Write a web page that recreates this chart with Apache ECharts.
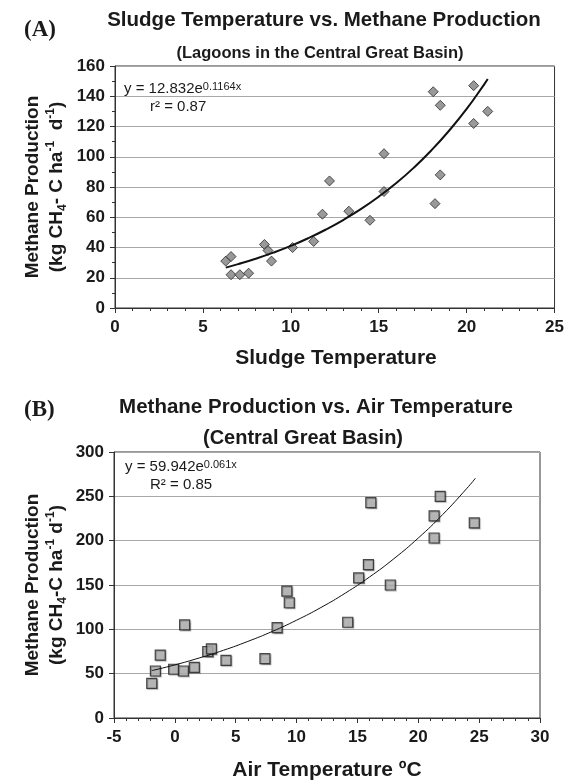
<!DOCTYPE html>
<html>
<head>
<meta charset="utf-8">
<script src="https://cdn.jsdelivr.net/npm/echarts@6/dist/echarts.min.js"></script>
<style>
  html, body { margin: 0; padding: 0; background: #fff; }
  #chart { width: 567px; height: 783px; }
</style>
</head>
<body>
<div id="chart"></div>
<script>
// (A) sludge temperature vs methane production
const sludgeTemp = [6.3, 6.6, 6.6, 7.1, 7.6, 8.5, 8.7, 8.9, 10.1, 11.3, 11.8, 12.2, 13.3, 14.5, 15.3, 15.3, 18.1, 18.5, 18.5, 18.2, 20.4, 20.4, 21.2]
const sludgeMethane = [31, 34, 22, 22, 23, 42, 38, 31, 40, 44, 62, 84, 64, 58, 102, 77, 143, 134, 88, 69, 147, 122, 130]
// trend curve
const sludgeTrendX = [6.3, 7, 8, 9, 10, 11, 12, 13, 14, 15, 16, 17, 18, 19, 20, 21, 21.2]
const sludgeTrendY = [26.7, 29.0, 32.6, 36.6, 41.1, 46.2, 51.9, 58.3, 65.5, 73.6, 82.6, 92.8, 104.3, 117.2, 131.6, 147.9, 151.4]
const sludgeXTicks = [0, 25, 5]
const sludgeYTicks = [0, 160, 20]

// (B) air temperature vs methane production
const airTemp = [-1.9, -1.6, -1.2, -0.1, 0.7, 0.8, 1.6, 2.7, 3.0, 4.2, 7.4, 8.4, 9.2, 9.4, 14.2, 15.1, 15.9, 16.1, 17.7, 21.3, 21.3, 21.8, 24.6]
const airMethane = [39, 53, 71, 55, 53, 105, 57, 75, 78, 65, 67, 102, 143, 130, 108, 158, 173, 243, 150, 203, 228, 250, 220]
const airTrendX = [-1.9, 0, 2, 4, 6, 8, 10, 12, 14, 16, 18, 20, 22, 24, 24.7]
const airTrendY = [53.4, 59.9, 67.7, 76.4, 86.4, 97.6, 110.3, 124.6, 140.8, 159.1, 179.7, 203.0, 229.4, 259.1, 270.5]
const airXTicks = [-5, 30, 5]
const airYTicks = [0, 300, 50]

const FONT = '"Liberation Sans", Arial, sans-serif'
const SERIF = '"Liberation Serif", "Times New Roman", serif'
const INK = '#1a1a1a'

const zip = (xs, ys) => xs.map((x, i) => [x, ys[i]])

const chart = echarts.init(document.getElementById('chart'), null, { renderer: 'canvas' })

const xAxisBase = (ticks, grid) => ({
    type: 'value', gridIndex: grid,
    min: ticks[0], max: ticks[1], interval: ticks[2],
    axisLine: { show: true, onZero: false, lineStyle: { color: '#333', width: 1 } },
    axisTick: { show: true, length: 5, lineStyle: { color: '#333' } },
    minorTick: { show: true, splitNumber: 5, length: 3, lineStyle: { color: '#333' } },
    splitLine: { show: false },
    axisLabel: { color: INK, fontFamily: FONT, fontWeight: 'bold', fontSize: 17, margin: 11 }
})
const yAxisBase = (ticks, grid, minor) => ({
    type: 'value', gridIndex: grid,
    min: ticks[0], max: ticks[1], interval: ticks[2],
    axisLine: { show: true, onZero: false, lineStyle: { color: '#333', width: 1 } },
    axisTick: { show: true, length: 5, lineStyle: { color: '#333' } },
    minorTick: { show: minor, splitNumber: 2, length: 3, lineStyle: { color: '#333' } },
    splitLine: { show: true, lineStyle: { color: '#a8a8a8', width: 1 } },
    axisLabel: { color: INK, fontFamily: FONT, fontWeight: 'bold', fontSize: 17, margin: 10 }
})

const nameRich = {
    sub: { fontSize: 12, fontWeight: 'bold', fontFamily: FONT, color: INK, lineHeight: 12, verticalAlign: 'bottom' },
    sup: { fontSize: 12, fontWeight: 'bold', fontFamily: FONT, color: INK, lineHeight: 12, verticalAlign: 'top' }
}
const eqRich = {
    sup: { fontSize: 11, fontFamily: FONT, color: INK, lineHeight: 11, verticalAlign: 'top' }
}

const txt = (x, y, text, opts) => ({
    type: 'text', x: x, y: y, rotation: opts.rotation || 0, silent: true,
    style: Object.assign({
        text: text, fill: INK, fontFamily: FONT, fontSize: 15,
        align: 'left', verticalAlign: 'middle'
    }, opts.style || {})
})

const option = {
    backgroundColor: '#fff',
    animation: false,
    grid: [
        { left: 115, top: 66, width: 442, height: 242, show: true, borderColor: '#333', borderWidth: 1, backgroundColor: 'transparent' },
        { left: 114, top: 452, width: 426, height: 266, show: true, borderColor: '#333', borderWidth: 1, backgroundColor: 'transparent' }
    ],
    xAxis: [xAxisBase(sludgeXTicks, 0), xAxisBase(airXTicks, 1)],
    yAxis: [yAxisBase(sludgeYTicks, 0, true), yAxisBase(airYTicks, 1, false)],
    series: [
        {
            type: 'scatter', xAxisIndex: 0, yAxisIndex: 0,
            symbol: 'diamond', symbolSize: 10,
            itemStyle: { color: '#808080', borderColor: '#2a2a2a', borderWidth: 1 },
            data: zip(sludgeTemp, sludgeMethane), z: 3
        },
        {
            type: 'line', xAxisIndex: 0, yAxisIndex: 0, smooth: true, showSymbol: false,
            lineStyle: { color: '#111', width: 2 },
            data: zip(sludgeTrendX, sludgeTrendY), z: 4
        },
        {
            type: 'scatter', xAxisIndex: 1, yAxisIndex: 1,
            symbol: 'rect', symbolSize: 10,
            itemStyle: {
                color: '#b3b3b3', borderColor: '#222', borderWidth: 1.2,
                shadowColor: 'rgba(0,0,0,0.35)', shadowOffsetX: 1, shadowOffsetY: 1, shadowBlur: 1
            },
            data: zip(airTemp, airMethane), z: 3
        },
        {
            type: 'line', xAxisIndex: 1, yAxisIndex: 1, smooth: true, showSymbol: false,
            lineStyle: { color: '#111', width: 1 },
            data: zip(airTrendX, airTrendY), z: 4
        }
    ],
    graphic: [
        // panel A
        txt(24, 30, '(A)', { style: { fontFamily: SERIF, fontWeight: 'bold', fontSize: 23 } }),
        txt(324, 20, 'Sludge Temperature vs. Methane Production', { style: { align: 'center', fontWeight: 'bold', fontSize: 20.5 } }),
        txt(320, 53, '(Lagoons in the Central Great Basin)', { style: { align: 'center', fontWeight: 'bold', fontSize: 16.5 } }),
        txt(124, 89, 'y = 12.832e{sup|0.1164x}', { style: { rich: eqRich } }),
        txt(150, 107, 'r² = 0.87', {}),
        txt(336, 358, 'Sludge Temperature', { style: { align: 'center', fontWeight: 'bold', fontSize: 21 } }),
        txt(45, 187, 'Methane Production\n(kg CH{sub|4}- C ha{sup|-1}  d{sup|-1})', {
            rotation: Math.PI / 2,
            style: { align: 'center', fontWeight: 'bold', fontSize: 19, lineHeight: 24, rich: nameRich }
        }),
        // panel B
        txt(24, 410, '(B)', { style: { fontFamily: SERIF, fontWeight: 'bold', fontSize: 23 } }),
        txt(316, 407, 'Methane Production vs. Air Temperature', { style: { align: 'center', fontWeight: 'bold', fontSize: 20.5 } }),
        txt(303, 438, '(Central Great Basin)', { style: { align: 'center', fontWeight: 'bold', fontSize: 20 } }),
        txt(125, 467, 'y = 59.942e{sup|0.061x}', { style: { rich: eqRich } }),
        txt(150, 485, 'R² = 0.85', {}),
        txt(327, 770, 'Air Temperature ºC', { style: { align: 'center', fontWeight: 'bold', fontSize: 21 } }),
        txt(45, 585, 'Methane Production\n(kg CH{sub|4}-C ha{sup|-1} d{sup|-1})', {
            rotation: Math.PI / 2,
            style: { align: 'center', fontWeight: 'bold', fontSize: 19, lineHeight: 24, rich: nameRich }
        })
    ]
}

chart.setOption(option)
</script>
</body>
</html>
